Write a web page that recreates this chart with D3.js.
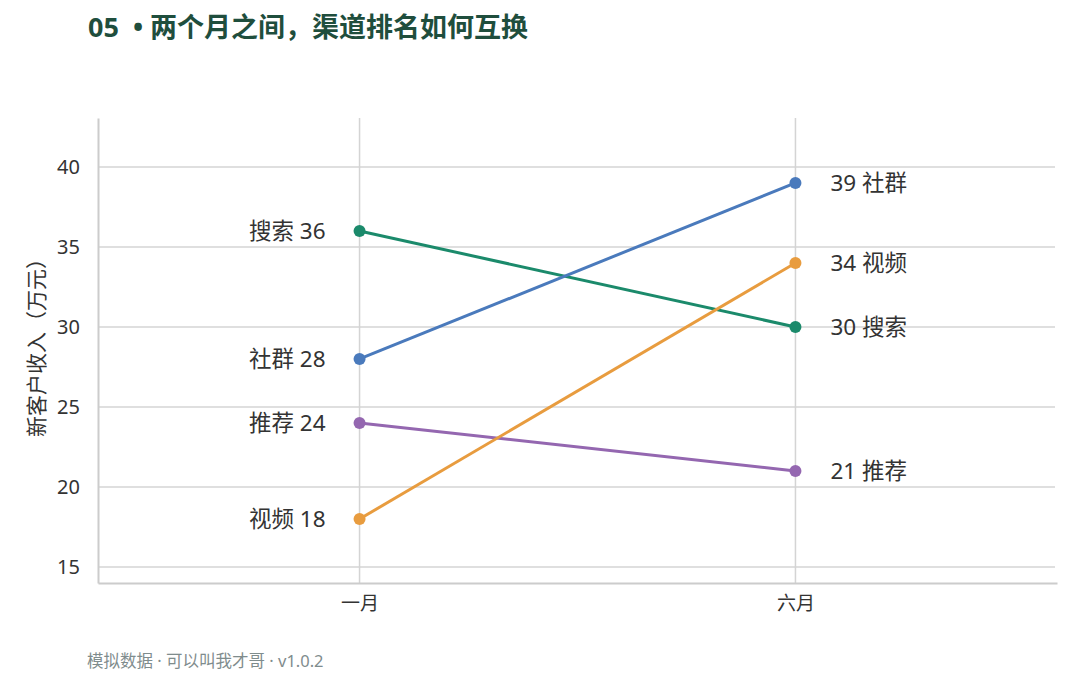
<!DOCTYPE html>
<html>
<head>
<meta charset="utf-8">
<script src="https://cdn.jsdelivr.net/npm/d3@7"></script>
<style>
  body { margin: 0; background: #fff; }
  svg { font-family: "Noto Sans", "Noto Sans CJK SC", sans-serif; }
</style>
</head>
<body>
<div id="chart"></div>
<script>
// data
var months = ["一月", "六月"];
var channels = ["搜索", "社群", "推荐", "视频"];
var janValues = [36, 28, 24, 18];
var junValues = [30, 39, 21, 34];
var channelColors = ["#1b8a6b", "#4a7abc", "#9467b0", "#e89c3f"];
var yTicks = [15, 20, 25, 30, 35, 40];

var width = 1080, height = 675;
var margin = { top: 118, right: 23, bottom: 92, left: 98 };
var plot_w = width - margin.left - margin.right,
    plot_h = height - margin.top - margin.bottom;

var svg = d3.select("#chart").append("svg")
    .attr("width", width)
    .attr("height", height);

// title
svg.append("text")
    .attr("x", 88).attr("y", 37)
    .attr("fill", "#1f4e3d")
    .attr("font-size", 27)
    .attr("font-weight", "bold")
    .text("05\u00a0\u00a0•\u00a0两个月之间，渠道排名如何互换");

var g = svg.append("g").attr("transform", "translate(" + margin.left + "," + margin.top + ")");

var x = d3.scaleLinear().domain([-0.6, 1.6]).range([0, plot_w]);
var y = d3.scaleLinear().domain([14, 43.06]).range([plot_h, 0]);

// grid
g.selectAll(".hgrid").data(yTicks).enter().append("line")
    .attr("x1", 0).attr("x2", plot_w - 2)
    .attr("y1", function (d) { return y(d); })
    .attr("y2", function (d) { return y(d); })
    .attr("stroke", "#d4d4d4").attr("stroke-width", 1.5);

g.selectAll(".vgrid").data(months).enter().append("line")
    .attr("x1", function (d, i) { return x(i); })
    .attr("x2", function (d, i) { return x(i); })
    .attr("y1", 0).attr("y2", plot_h)
    .attr("stroke", "#d4d4d4").attr("stroke-width", 1.5);

// axes
var yAxis = d3.axisLeft(y).tickValues(yTicks).tickSize(0).tickPadding(18);
var ya = g.append("g").call(yAxis);
ya.select(".domain").attr("stroke", "#cccccc").attr("stroke-width", 2);
ya.selectAll("text").attr("font-size", 20).attr("fill", "#333").attr("font-family", "'Noto Sans', 'Noto Sans CJK SC', sans-serif");

var xAxis = d3.axisBottom(x).tickValues([0, 1]).tickFormat(function (d) { return months[d]; })
    .tickSize(0).tickPadding(14);
var xa = g.append("g").attr("transform", "translate(0," + plot_h + ")").call(xAxis);
xa.select(".domain").attr("stroke", "#cccccc").attr("stroke-width", 2);
xa.selectAll("text").attr("font-size", 19).attr("fill", "#333").attr("font-family", "'Noto Sans CJK SC', sans-serif");

// y label
svg.append("text")
    .attr("transform", "translate(44," + (margin.top + plot_h / 2 - 8) + ") rotate(-90)")
    .attr("text-anchor", "middle")
    .attr("font-size", 21)
    .attr("fill", "#333")
    .attr("font-family", "'Noto Sans CJK SC', sans-serif")
    .text("新客户收入（万元）");

// slope lines
var rows = channels.map(function (c, i) {
    return { name: c, jan: janValues[i], jun: junValues[i], color: channelColors[i] };
});

g.selectAll(".slope").data(rows).enter().append("line")
    .attr("x1", x(0)).attr("x2", x(1))
    .attr("y1", function (d) { return y(d.jan); })
    .attr("y2", function (d) { return y(d.jun); })
    .attr("stroke", function (d) { return d.color; })
    .attr("stroke-width", 3);

g.selectAll(".dotL").data(rows).enter().append("circle")
    .attr("cx", x(0)).attr("cy", function (d) { return y(d.jan); })
    .attr("r", 6).attr("fill", function (d) { return d.color; });

g.selectAll(".dotR").data(rows).enter().append("circle")
    .attr("cx", x(1)).attr("cy", function (d) { return y(d.jun); })
    .attr("r", 6).attr("fill", function (d) { return d.color; });

// labels
g.selectAll(".labL").data(rows).enter().append("text")
    .attr("x", x(0) - 34).attr("y", function (d) { return y(d.jan); })
    .attr("dy", "0.35em")
    .attr("text-anchor", "end")
    .attr("font-size", 22.5).attr("fill", "#333")
    .text(function (d) { return d.name + " " + d.jan; });

g.selectAll(".labR").data(rows).enter().append("text")
    .attr("x", x(1) + 35).attr("y", function (d) { return y(d.jun); })
    .attr("dy", "0.35em")
    .attr("text-anchor", "start")
    .attr("font-size", 22.5).attr("fill", "#333")
    .text(function (d) { return d.jun + " " + d.name; });

// footer
svg.append("text")
    .attr("x", 87).attr("y", 667)
    .attr("font-size", 16.5)
    .attr("fill", "#7f8c8d")
    .text("模拟数据 · 可以叫我才哥 · v1.0.2");
</script>
</body>
</html>
